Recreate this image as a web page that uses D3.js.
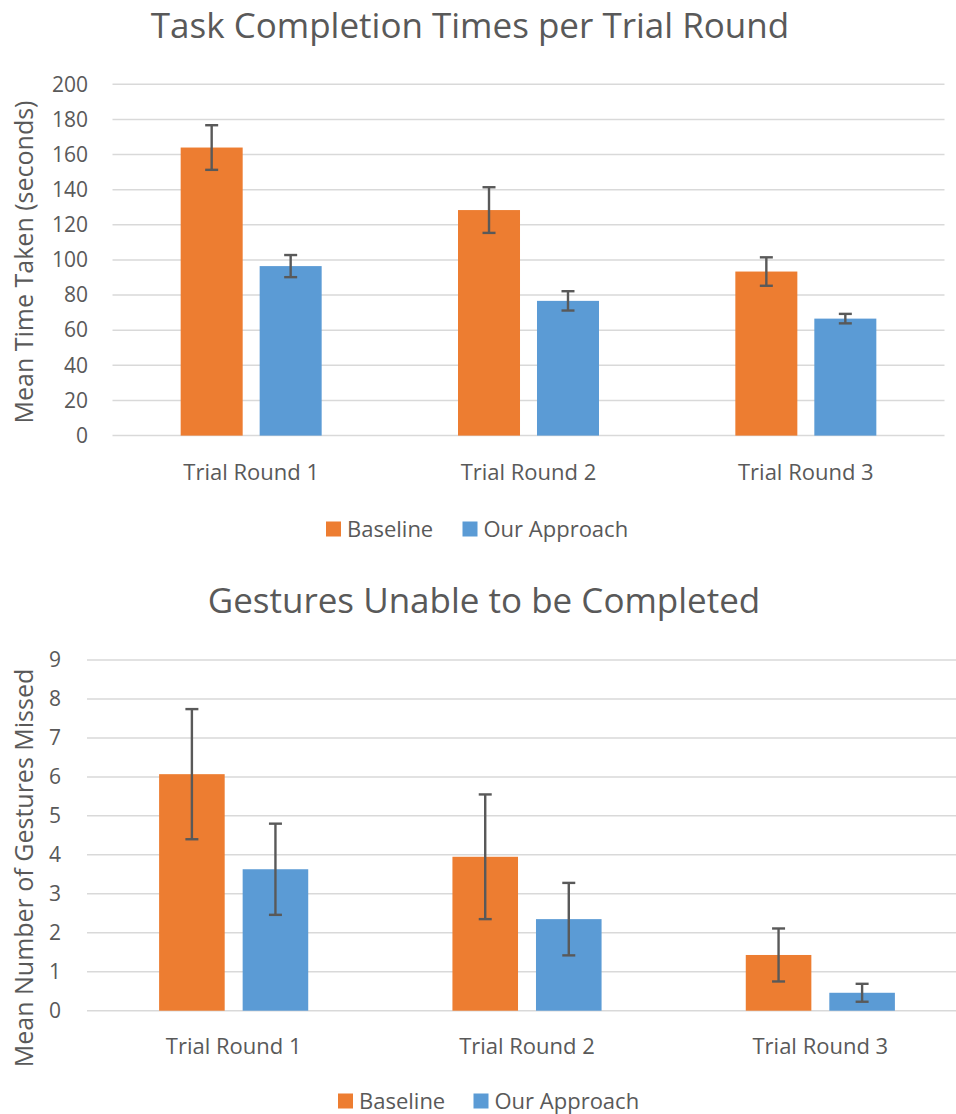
<!DOCTYPE html>
<html>
<head>
<meta charset="utf-8">
<script src="https://cdn.jsdelivr.net/npm/d3@7"></script>
<style>
body{margin:0;background:#fff;}
svg{display:block;font-family:"Open Sans","Noto Sans",sans-serif;}
</style>
</head>
<body>
<svg id="c" width="956" height="1114"></svg>
<script>
const categories = ["Trial Round 1","Trial Round 2","Trial Round 3"];
const seriesNames = ["Baseline","Our Approach"];
const colors = ["#ED7D31","#5B9BD5"];

const timeBaseline = [164, 128.4, 93.4];
const timeBaselineErr = [12.7, 13, 8.1];
const timeApproach = [96.5, 76.7, 66.6];
const timeApproachErr = [6.3, 5.5, 2.7];
const timeTicks = [0,20,40,60,80,100,120,140,160,180,200];

const gestBaseline = [6.07, 3.95, 1.43];
const gestBaselineErr = [1.67, 1.6, 0.68];
const gestApproach = [3.63, 2.35, 0.46];
const gestApproachErr = [1.17, 0.93, 0.23];
const gestTicks = [0,1,2,3,4,5,6,7,8,9];

const svg = d3.select("#c");
const textColor = "#595959";

function drawChart(cfg){
  const g = svg.append("g");
  const x0 = d3.scaleBand().domain(categories).range([cfg.left, cfg.right]);
  const x1 = d3.scaleBand().domain(seriesNames).range([0, x0.bandwidth()])
    .paddingInner(0.215).paddingOuter(0.863);
  const y = d3.scaleLinear().domain([0, d3.max(cfg.ticks)]).range([cfg.bottom, cfg.top]);

  // title
  g.append("text").attr("x", cfg.titleX).attr("y", cfg.titleY)
    .attr("text-anchor","middle").attr("font-size", 35).attr("fill", textColor)
    .text(cfg.title);

  // gridlines
  g.selectAll("line.grid").data(cfg.ticks).enter().append("line")
    .attr("x1", cfg.left).attr("x2", cfg.right)
    .attr("y1", d=>y(d)).attr("y2", d=>y(d))
    .attr("stroke","#D9D9D9").attr("stroke-width",1.5);

  // y axis via d3 axis (labels only)
  const ya = g.append("g").attr("transform", `translate(${cfg.left},0)`)
    .call(d3.axisLeft(y).tickValues(cfg.ticks).tickSize(0).tickPadding(cfg.left - cfg.tickEnd));
  ya.select(".domain").remove();
  ya.selectAll("text").attr("font-size", 21).attr("fill", textColor)
    .attr("font-family", "'Open Sans','Noto Sans',sans-serif");

  // x axis labels
  const xa = g.append("g").attr("transform", `translate(0,${cfg.bottom})`)
    .call(d3.axisBottom(x0).tickSize(0).tickPadding(cfg.xLabelPad));
  xa.select(".domain").remove();
  xa.selectAll("text").attr("font-size", 22).attr("fill", textColor)
    .attr("font-family", "'Open Sans','Noto Sans',sans-serif");

  // y axis title
  g.append("text")
    .attr("transform", `translate(${cfg.yTitleX},${cfg.yTitleY}) rotate(-90)`)
    .attr("text-anchor","middle").attr("font-size", 25).attr("fill", textColor)
    .text(cfg.yTitle);

  // bars
  const data = [];
  categories.forEach((c,i)=>{
    cfg.values.forEach((vals,s)=>{
      data.push({cat:c, series:seriesNames[s], v:vals[i], e:cfg.errs[s][i], color:colors[s]});
    });
  });
  g.selectAll("rect.bar").data(data).enter().append("rect")
    .attr("x", d=>x0(d.cat)+x1(d.series))
    .attr("width", x1.bandwidth())
    .attr("y", d=>y(d.v))
    .attr("height", d=>y(0)-y(d.v))
    .attr("fill", d=>d.color);

  // error bars
  const cap = 6.5;
  data.forEach(d=>{
    const cx = x0(d.cat)+x1(d.series)+x1.bandwidth()/2;
    const eg = g.append("g").attr("stroke","#595959").attr("stroke-width",2.4);
    eg.append("line").attr("x1",cx).attr("x2",cx).attr("y1",y(d.v+d.e)).attr("y2",y(d.v-d.e));
    eg.append("line").attr("x1",cx-cap).attr("x2",cx+cap).attr("y1",y(d.v+d.e)).attr("y2",y(d.v+d.e));
    eg.append("line").attr("x1",cx-cap).attr("x2",cx+cap).attr("y1",y(d.v-d.e)).attr("y2",y(d.v-d.e));
  });

  // legend
  const lg = g.append("g");
  seriesNames.forEach((s,i)=>{
    const lx = cfg.legendX[i];
    lg.append("rect").attr("x", lx).attr("y", cfg.legendY-7.5).attr("width",15).attr("height",15)
      .attr("fill", colors[i]);
    lg.append("text").attr("x", lx+21).attr("y", cfg.legendY).attr("dy","0.35em")
      .attr("font-size",22).attr("fill",textColor).text(s);
  });
}

drawChart({
  title:"Task Completion Times per Trial Round", titleX:470, titleY:38,
  left:112.5, right:944.5, top:84.3, bottom:435.6, tickEnd:88,
  ticks:timeTicks, xLabelPad:28.5,
  yTitle:"Mean Time Taken (seconds)", yTitleX:33, yTitleY:262,
  values:[timeBaseline,timeApproach], errs:[timeBaselineErr,timeApproachErr],
  legendX:[326, 462.5], legendY:529
});

drawChart({
  title:"Gestures Unable to be Completed", titleX:484, titleY:613,
  left:87, right:967, top:660, bottom:1010.7, tickEnd:61,
  ticks:gestTicks, xLabelPad:27.5,
  yTitle:"Mean Number of Gestures Missed", yTitleX:33, yTitleY:868,
  values:[gestBaseline,gestApproach], errs:[gestBaselineErr,gestApproachErr],
  legendX:[338, 473.5], legendY:1101
});
</script>
</body>
</html>
